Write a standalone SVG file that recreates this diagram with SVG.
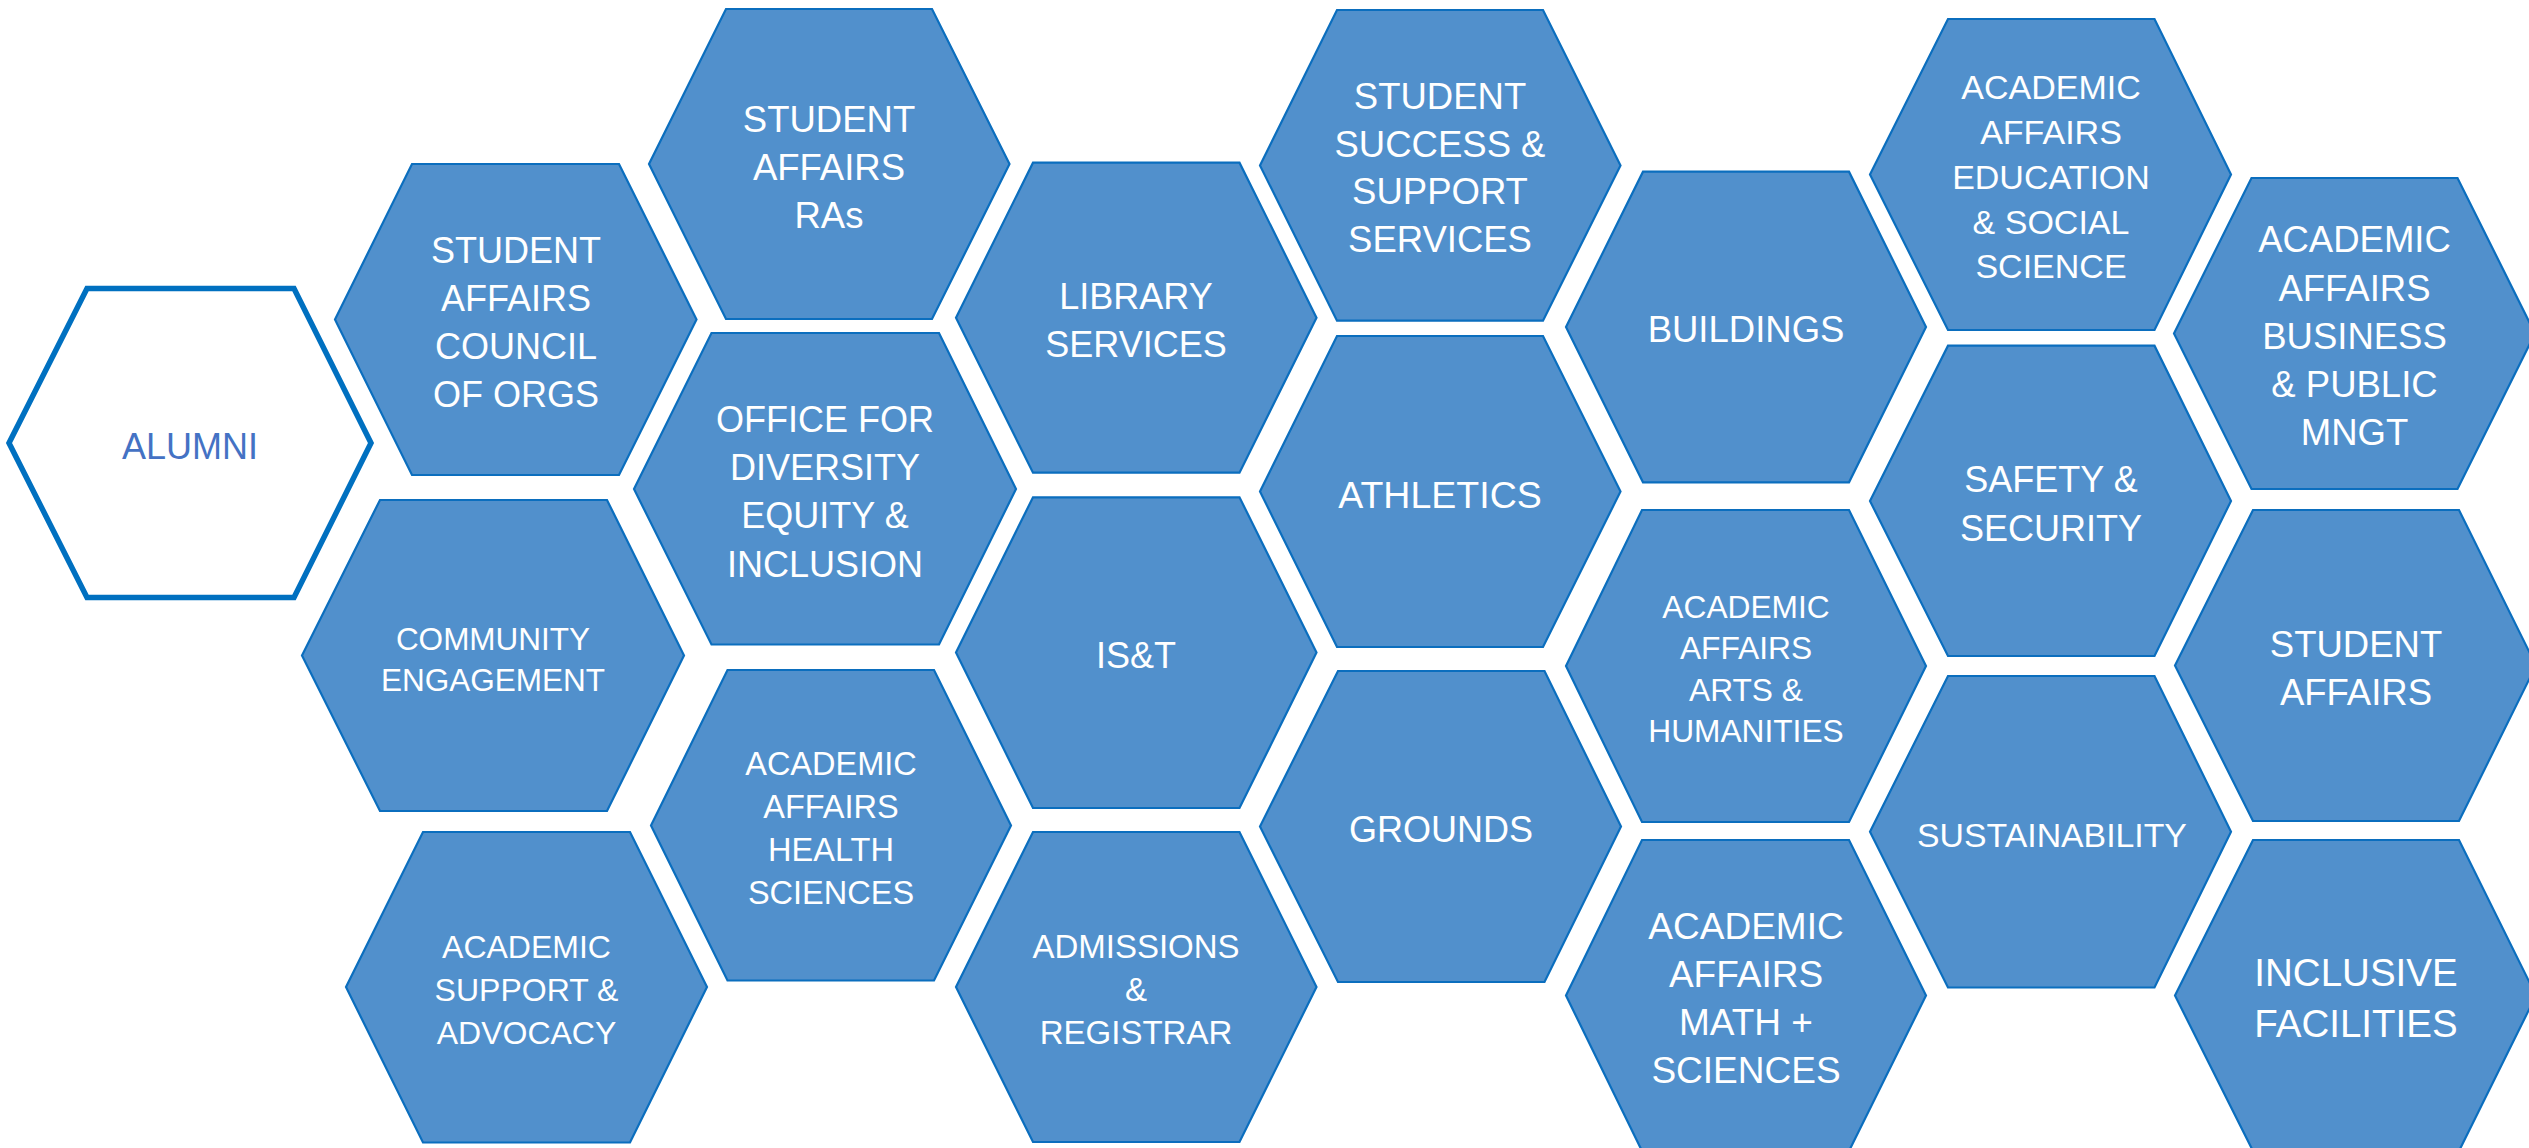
<svg xmlns="http://www.w3.org/2000/svg" width="2529" height="1148" viewBox="0 0 2529 1148">
  <style>
    .hex { fill: #5190CC; stroke: #0B6EBE; stroke-width: 2.2; stroke-linejoin: miter; }
    .hex-outline { fill: #FFFFFF; stroke: #0070C0; stroke-width: 5.5; stroke-linejoin: miter; }
    .lbl { font-family: "Liberation Sans", Arial, "Helvetica", sans-serif; fill: #FFFFFF; text-anchor: middle; }
    .lbl-dark { font-family: "Liberation Sans", Arial, "Helvetica", sans-serif; fill: #4472C4; text-anchor: middle; }
  </style>
  <rect width="2529" height="1148" fill="#FFFFFF"/>

  <!-- column 0 -->
  <g id="alumni">
    <polygon class="hex-outline" points="9,443 87,288.5 294,288.5 371,443 294,597.5 87,597.5"/>
    <text class="lbl-dark" x="190" y="459" font-size="36">ALUMNI</text>
  </g>

  <!-- column 1 -->
  <g id="council-of-orgs" font-size="36">
    <polygon class="hex" points="335,319.5 412,164 619,164 696.5,319.5 619,475 412,475"/>
    <text class="lbl" x="516" y="263">STUDENT</text>
    <text class="lbl" x="516" y="311">AFFAIRS</text>
    <text class="lbl" x="516" y="359">COUNCIL</text>
    <text class="lbl" x="516" y="407">OF ORGS</text>
  </g>
  <g id="community-engagement" font-size="31.5">
    <polygon class="hex" points="302,655.5 380,500 607,500 684,655.5 607,811 380,811"/>
    <text class="lbl" x="493" y="650">COMMUNITY</text>
    <text class="lbl" x="493" y="691">ENGAGEMENT</text>
  </g>
  <g id="academic-support" font-size="32">
    <polygon class="hex" points="346,987 423,832 630,832 707,987 630,1142.5 423,1142.5"/>
    <text class="lbl" x="526.5" y="958">ACADEMIC</text>
    <text class="lbl" x="526.5" y="1001">SUPPORT &amp;</text>
    <text class="lbl" x="526.5" y="1044">ADVOCACY</text>
  </g>

  <!-- column 2 -->
  <g id="student-affairs-ras" font-size="36.5">
    <polygon class="hex" points="649,164 726,9 932,9 1009.5,164 932,319 726,319"/>
    <text class="lbl" x="829" y="132">STUDENT</text>
    <text class="lbl" x="829" y="180">AFFAIRS</text>
    <text class="lbl" x="829" y="228">RAs</text>
  </g>
  <g id="diversity-equity-inclusion" font-size="36">
    <polygon class="hex" points="634,489 711.5,333 939,333 1016,489 939,644.5 711.5,644.5"/>
    <text class="lbl" x="825" y="432">OFFICE FOR</text>
    <text class="lbl" x="825" y="480">DIVERSITY</text>
    <text class="lbl" x="825" y="528">EQUITY &amp;</text>
    <text class="lbl" x="825" y="576.5">INCLUSION</text>
  </g>
  <g id="health-sciences" font-size="32.5">
    <polygon class="hex" points="651,825.5 727.5,670 934,670 1011,825.5 934,980.5 727.5,980.5"/>
    <text class="lbl" x="831" y="775">ACADEMIC</text>
    <text class="lbl" x="831" y="818">AFFAIRS</text>
    <text class="lbl" x="831" y="861">HEALTH</text>
    <text class="lbl" x="831" y="904">SCIENCES</text>
  </g>

  <!-- column 3 -->
  <g id="library-services" font-size="36">
    <polygon class="hex" points="956,317.7 1033,162.7 1239.5,162.7 1316.5,317.7 1239.5,472.7 1033,472.7"/>
    <text class="lbl" x="1136" y="309">LIBRARY</text>
    <text class="lbl" x="1136" y="357">SERVICES</text>
  </g>
  <g id="ist" font-size="36">
    <polygon class="hex" points="956,652.6 1033,497.3 1239.5,497.3 1316.5,652.6 1239.5,808 1033,808"/>
    <text class="lbl" x="1136" y="668">IS&amp;T</text>
  </g>
  <g id="admissions-registrar" font-size="33">
    <polygon class="hex" points="956,987 1033,832 1239.5,832 1316.5,987 1239.5,1142 1033,1142"/>
    <text class="lbl" x="1136" y="958">ADMISSIONS</text>
    <text class="lbl" x="1136" y="1001">&amp;</text>
    <text class="lbl" x="1136" y="1044">REGISTRAR</text>
  </g>

  <!-- column 4 -->
  <g id="student-success" font-size="36.5">
    <polygon class="hex" points="1260,165.4 1337,10 1543,10 1620.5,165.4 1543,320.7 1337,320.7"/>
    <text class="lbl" x="1440" y="109">STUDENT</text>
    <text class="lbl" x="1440" y="157">SUCCESS &amp;</text>
    <text class="lbl" x="1440" y="204">SUPPORT</text>
    <text class="lbl" x="1440" y="252">SERVICES</text>
  </g>
  <g id="athletics" font-size="37.5">
    <polygon class="hex" points="1260,491.5 1337,336 1543,336 1620.5,491.5 1543,647 1337,647"/>
    <text class="lbl" x="1440" y="507.5">ATHLETICS</text>
  </g>
  <g id="grounds" font-size="36">
    <polygon class="hex" points="1260,826.5 1338,671 1544.5,671 1621,826.5 1544.5,982 1338,982"/>
    <text class="lbl" x="1441" y="842">GROUNDS</text>
  </g>

  <!-- column 5 -->
  <g id="buildings" font-size="36.5">
    <polygon class="hex" points="1566,327 1643,171.7 1849,171.7 1926,327 1849,482.3 1643,482.3"/>
    <text class="lbl" x="1746" y="342">BUILDINGS</text>
  </g>
  <g id="arts-humanities" font-size="31.7">
    <polygon class="hex" points="1566,666 1642,510 1849,510 1926,666 1849,822 1642,822"/>
    <text class="lbl" x="1746" y="617.5">ACADEMIC</text>
    <text class="lbl" x="1746" y="659">AFFAIRS</text>
    <text class="lbl" x="1746" y="700.5">ARTS &amp;</text>
    <text class="lbl" x="1746" y="742">HUMANITIES</text>
  </g>
  <g id="math-sciences" font-size="37">
    <polygon class="hex" points="1566,995.5 1642,840 1849,840 1926,995.5 1849,1151 1642,1151"/>
    <text class="lbl" x="1746" y="939">ACADEMIC</text>
    <text class="lbl" x="1746" y="987">AFFAIRS</text>
    <text class="lbl" x="1746" y="1035">MATH +</text>
    <text class="lbl" x="1746" y="1083">SCIENCES</text>
  </g>

  <!-- column 6 -->
  <g id="education-social-science" font-size="34">
    <polygon class="hex" points="1870,174.5 1948,19 2154.5,19 2231,174.5 2154.5,330 1948,330"/>
    <text class="lbl" x="2051" y="99">ACADEMIC</text>
    <text class="lbl" x="2051" y="144">AFFAIRS</text>
    <text class="lbl" x="2051" y="189">EDUCATION</text>
    <text class="lbl" x="2051" y="233.5">&amp; SOCIAL</text>
    <text class="lbl" x="2051" y="278">SCIENCE</text>
  </g>
  <g id="safety-security" font-size="36">
    <polygon class="hex" points="1870,501 1948,345.7 2154.5,345.7 2231,501 2154.5,656 1948,656"/>
    <text class="lbl" x="2051" y="492">SAFETY &amp;</text>
    <text class="lbl" x="2051" y="541">SECURITY</text>
  </g>
  <g id="sustainability" font-size="33.8">
    <polygon class="hex" points="1870,831.7 1948,676 2154.5,676 2231,831.7 2154.5,987.5 1948,987.5"/>
    <text class="lbl" x="2052" y="847">SUSTAINABILITY</text>
  </g>

  <!-- column 7 -->
  <g id="business-public-mngt" font-size="36.5">
    <polygon class="hex" points="2174,333.5 2251.5,178 2457.5,178 2535,333.5 2457.5,489 2251.5,489"/>
    <text class="lbl" x="2354.5" y="252">ACADEMIC</text>
    <text class="lbl" x="2354.5" y="300.5">AFFAIRS</text>
    <text class="lbl" x="2354.5" y="349">BUSINESS</text>
    <text class="lbl" x="2354.5" y="397">&amp; PUBLIC</text>
    <text class="lbl" x="2354.5" y="445">MNGT</text>
  </g>
  <g id="student-affairs" font-size="36.5">
    <polygon class="hex" points="2175,665.5 2253,510 2459,510 2536,665.5 2459,821 2253,821"/>
    <text class="lbl" x="2356" y="657">STUDENT</text>
    <text class="lbl" x="2356" y="705">AFFAIRS</text>
  </g>
  <g id="inclusive-facilities" font-size="38.5">
    <polygon class="hex" points="2175,995.5 2253,840 2459,840 2536,995.5 2459,1151 2253,1151"/>
    <text class="lbl" x="2356" y="986">INCLUSIVE</text>
    <text class="lbl" x="2356" y="1037">FACILITIES</text>
  </g>
</svg>
